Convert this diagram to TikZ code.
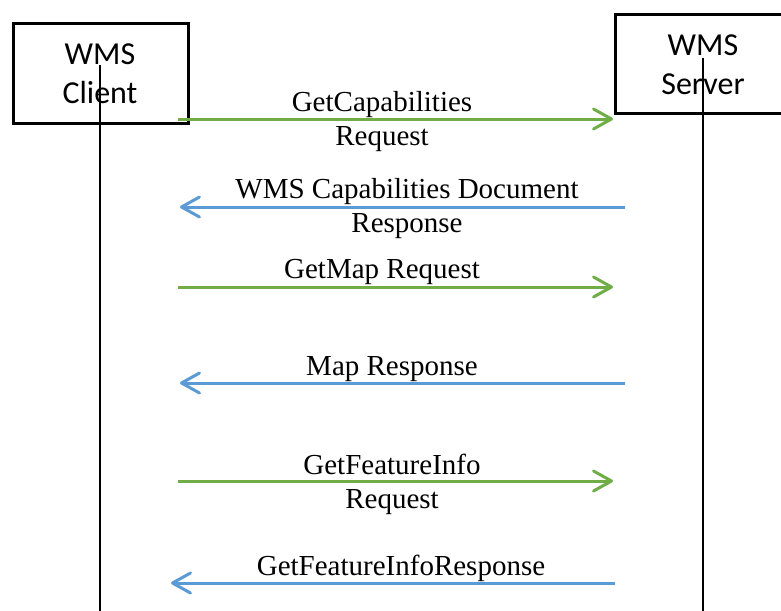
\documentclass[tikz,border=0pt]{standalone}
\usepackage{fontspec}
\setmainfont{Liberation Serif}
\newfontfamily\boxfont{Carlito}
\usetikzlibrary{arrows.meta}
\definecolor{reqgreen}{HTML}{70AD47}
\definecolor{respblue}{HTML}{5B9BD5}
\tikzset{
  actor/.style={draw=black, line width=3pt, minimum width=175pt, minimum height=100pt,
    inner sep=0pt},
  lifeline/.style={draw=black, line width=2.5pt},
  msg/.style={line width=3pt, -{Straight Barb[length=18pt,width=20pt,round]}},
  req/.style={msg, draw=reqgreen},
  resp/.style={msg, draw=respblue},
  actortext/.style={font=\boxfont\fontsize{32}{39}\selectfont, align=center},
  msgtext/.style={font=\fontsize{29}{34}\selectfont, align=center, inner sep=0pt},
}
\begin{document}
\begin{tikzpicture}[x=1pt, y=-1pt]
\useasboundingbox (0,0) rectangle (781,610);
% participants
\node[actor, anchor=north west] (client) at (12,22) {};
\node[actor, anchor=north west, minimum width=167pt, minimum height=99pt] (server) at (614,13) {};
\node[actortext] (clienttxt) at (100,74) {WMS\\Client};
\node[actortext] (servertxt) at (703,65) {WMS\\Server};
% lifelines
\coordinate (cl0) at (100,65);
\coordinate (cl1) at (100,612);
\coordinate (sv0) at (703,58);
\coordinate (sv1) at (703,612);
\draw[lifeline] (cl0) -- (cl1);
\draw[lifeline] (sv0) -- (sv1);
% message end points
\coordinate (m1a) at (178,119); \coordinate (m1b) at (613,119);
\coordinate (m2a) at (625,207); \coordinate (m2b) at (180,207);
\coordinate (m3a) at (178,287); \coordinate (m3b) at (613,287);
\coordinate (m4a) at (625,383); \coordinate (m4b) at (180,383);
\coordinate (m5a) at (178,481); \coordinate (m5b) at (613,481);
\coordinate (m6a) at (615,583); \coordinate (m6b) at (171,583);
\draw[req]  (m1a) -- (m1b);
\draw[resp] (m2a) -- (m2b);
\draw[req]  (m3a) -- (m3b);
\draw[resp] (m4a) -- (m4b);
\draw[req]  (m5a) -- (m5b);
\draw[resp] (m6a) -- (m6b);
% message labels
\node[msgtext] (l1) at (382,122) {GetCapabilities\\Request};
\node[msgtext] (l2) at (407,209) {WMS Capabilities Document\\Response};
\node[msgtext] (l3) at (382,272) {GetMap Request};
\node[msgtext] (l4) at (392,369) {Map Response};
\node[msgtext] (l5) at (392,484) {GetFeatureInfo\\Request};
\node[msgtext] (l6) at (401,568) {GetFeatureInfoResponse};
\end{tikzpicture}
\end{document}
